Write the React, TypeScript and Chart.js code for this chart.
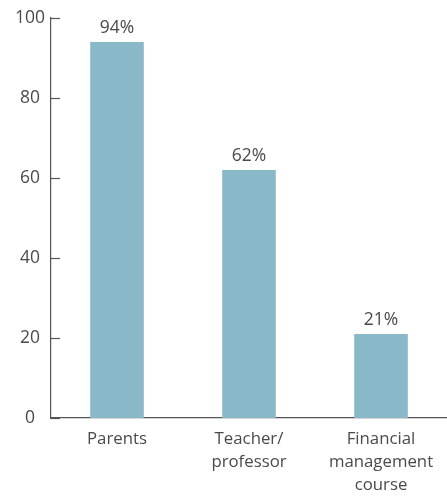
import React, { useEffect, useRef } from "react";
import { Chart, registerables } from "chart.js";

Chart.register(...registerables);

const categories: (string | string[])[] = [
  "Parents",
  ["Teacher/", "professor"],
  ["Financial", "management", "course"],
];
const values: number[] = [94, 62, 21];
const valueLabels: string[] = ["94%", "62%", "21%"];
const yTicks: number[] = [0, 20, 40, 60, 80, 100];

const FONT = "'Open Sans', 'Noto Sans', sans-serif";
const TEXT = "#4a4a4a";
const AXIS = "#555555";

const innerTicks = {
  id: "innerTicks",
  afterDraw(chart: any) {
    const ctx = chart.ctx;
    const y = chart.scales.y;
    const area = chart.chartArea;
    ctx.save();
    ctx.strokeStyle = AXIS;
    ctx.lineWidth = 1.2;
    yTicks.forEach((t) => {
      const py = Math.round(y.getPixelForValue(t)) + 0.5;
      ctx.beginPath();
      ctx.moveTo(area.left, py);
      ctx.lineTo(area.left + 9, py);
      ctx.stroke();
    });
    const meta = chart.getDatasetMeta(0);
    ctx.fillStyle = TEXT;
    ctx.font = `400 17.5px ${FONT}`;
    ctx.textAlign = "center";
    ctx.textBaseline = "bottom";
    meta.data.forEach((bar: any, i: number) => {
      ctx.fillText(valueLabels[i], bar.x, bar.y - 5);
    });
    ctx.restore();
  },
};

export default function App() {
  const ref = useRef<HTMLCanvasElement>(null);
  useEffect(() => {
    document.body.style.margin = "0";
    const chart = new Chart(ref.current!, {
      type: "bar",
      data: {
        labels: categories,
        datasets: [
          {
            data: values,
            backgroundColor: "#89b8c9",
            barPercentage: 0.406,
            categoryPercentage: 1,
          },
        ],
      },
      options: {
        animation: false,
        responsive: false,
        layout: { padding: { top: 18, right: -3, left: 0, bottom: 0 } },
        plugins: { legend: { display: false }, tooltip: { enabled: false } },
        scales: {
          x: {
            grid: { display: false, drawTicks: false },
            border: { display: true, color: AXIS, width: 1.2 },
            ticks: {
              color: TEXT,
              font: { family: FONT, size: 16.8, weight: "400", lineHeight: 1.37 },
              padding: 10,
              maxRotation: 0,
              autoSkip: false,
            },
            afterFit(s: any) {
              s.height = 86;
            },
          },
          y: {
            min: 0,
            max: 100,
            grid: { display: false, drawTicks: false },
            border: { display: true, color: AXIS, width: 1.2 },
            afterBuildTicks(s: any) {
              s.ticks = yTicks.map((v) => ({ value: v }));
            },
            ticks: {
              color: TEXT,
              font: { family: FONT, size: 17.5, weight: "400" },
              crossAlign: "center",
              padding: 6,
            },
            afterFit(s: any) {
              s.width = 51;
            },
          },
        },
      },
      plugins: [innerTicks],
    });
    return () => chart.destroy();
  }, []);
  return (
    <div style={{ width: 447, height: 504 }}>
      <canvas ref={ref} width={447} height={504} style={{ display: "block" }} />
    </div>
  );
}
